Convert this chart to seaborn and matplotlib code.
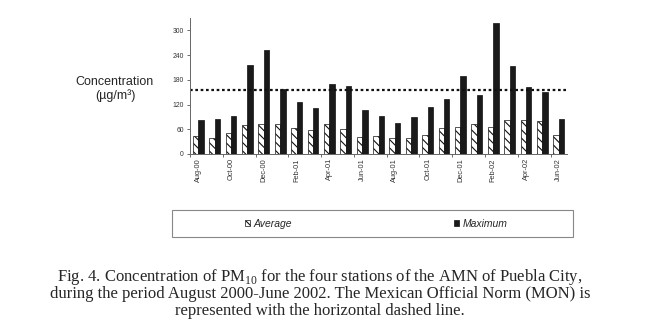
import numpy as np
import pandas as pd
import matplotlib
matplotlib.use('Agg')
import matplotlib.pyplot as plt
from matplotlib.patches import Rectangle
import seaborn as sns

# Datos (PM10, ug/m3)
meses = ['Aug-00', 'Sep-00', 'Oct-00', 'Nov-00', 'Dec-00', 'Jan-01', 'Feb-01', 'Mar-01',
         'Apr-01', 'May-01', 'Jun-01', 'Jul-01', 'Aug-01', 'Sep-01', 'Oct-01', 'Nov-01',
         'Dec-01', 'Jan-02', 'Feb-02', 'Mar-02', 'Apr-02', 'May-02', 'Jun-02']
promedio = [43, 40, 51, 70, 74, 74, 62, 58, 74, 60, 42, 43, 40, 40, 46, 63, 66, 72, 66, 82, 82, 81, 47]
maximo = [82, 85, 91, 216, 252, 158, 126, 112, 170, 164, 106, 92, 76, 90, 115, 134, 189, 143, 318, 213, 162, 150, 86]
norma = 155
yticks = [0, 60, 120, 180, 240, 300]

df = pd.DataFrame({
    'Mes': meses * 2,
    'Serie': ['Average'] * len(meses) + ['Maximum'] * len(meses),
    'Valor': promedio + maximo,
})

sns.set_style('white')
plt.rcParams['font.family'] = ['Liberation Sans', 'DejaVu Sans']
plt.rcParams['mathtext.fontset'] = 'custom'
plt.rcParams['mathtext.rm'] = 'Liberation Serif'
plt.rcParams['hatch.linewidth'] = 0.8

fig = plt.figure(figsize=(6.47, 3.34), dpi=100)
ax = fig.add_axes([190 / 647, 1 - 154 / 334, 377 / 647, 136 / 334])

sns.barplot(data=df, x='Mes', y='Valor', hue='Serie', order=meses,
            palette={'Average': 'white', 'Maximum': '#1a1a1a'},
            width=0.66, edgecolor='#111111', linewidth=0.5, ax=ax, legend=False)

for p in ax.containers[0]:
    p.set_hatch('\\\\\\\\')

# linea de la norma (MON)
ax.axhline(norma, color='#111111', lw=1.6, ls=(0, (1.2, 1.2)))

ax.set_xlim(-0.5, len(meses) - 0.5)
ax.set_ylim(0, 330)
ax.set_yticks(yticks)
ax.set_xticks(range(0, len(meses), 2))
ax.set_xticklabels(meses[::2], rotation=90, fontsize=5.3, color='#333333')
ax.set_xticks(np.arange(-0.5, len(meses) - 1, 2), minor=True)
ax.tick_params(axis='x', which='major', length=0, pad=3)
ax.tick_params(axis='x', which='minor', length=2.5, width=0.6, color='#555555', direction='out', bottom=True)
ax.tick_params(axis='y', length=2.5, width=0.6, color='#555555', direction='out', left=True,
               labelsize=4.9, labelcolor='#333333', pad=2)
for s in ['top', 'right']:
    ax.spines[s].set_visible(False)
for s in ['left', 'bottom']:
    ax.spines[s].set_color('#666666')
    ax.spines[s].set_linewidth(0.7)
ax.set_xlabel('')
ax.set_ylabel('')

fig.text(115 / 647, 1 - 89 / 334, 'Concentration\n(\u00b5g/m\u00b3)', ha='center', va='center',
         fontsize=9, linespacing=1.15)

# leyenda abajo con recuadro
handles = [ax.containers[0][0], ax.containers[1][0]]
fig.legend(handles, ['Average', 'Maximum'], loc='center', bbox_to_anchor=(376 / 647, 1 - 224 / 334),
           ncol=2, frameon=False, columnspacing=15.5, handlelength=0.55, handleheight=0.55,
           handletextpad=0.3, prop={'style': 'italic', 'size': 7.5})
fig.add_artist(Rectangle((172 / 647, 1 - 237 / 334), 401 / 647, 27 / 334, transform=fig.transFigure,
                         fill=False, edgecolor='#888888', lw=0.8))

caption = ['Fig. 4. Concentration of PM$_{10}$ for the four stations of the AMN of Puebla City,',
           'during the period August 2000-June 2002. The Mexican Official Norm (MON) is',
           'represented with the horizontal dashed line.']
for i, linea in enumerate(caption):
    fig.text(320 / 647, 1 - (277 + 17 * i) / 334, linea, ha='center', va='center',
             family='Liberation Serif', fontsize=12)

plt.savefig('out.png', dpi=100)
